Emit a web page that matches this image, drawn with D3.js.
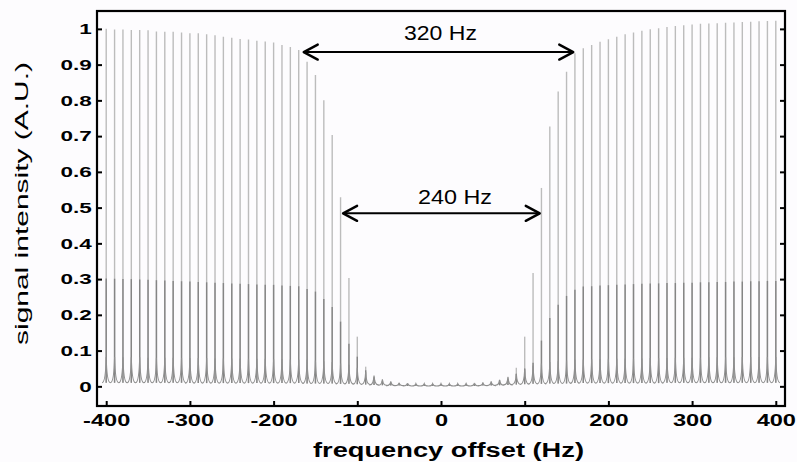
<!DOCTYPE html>
<html>
<head>
<meta charset="utf-8">
<script src="https://cdn.jsdelivr.net/npm/d3@7"></script>
<style>
  html, body { margin: 0; padding: 0; background: #fdfcfe; }
  svg { display: block; }
</style>
</head>
<body>
<svg id="chart" width="797" height="462"></svg>
<script>
// ---------------- DATA ----------------
const freqs = [-400,-390,-380,-370,-360,-350,-340,-330,-320,-310,-300,-290,-280,-270,-260,-250,-240,-230,-220,-210,
  -200,-190,-180,-170,-160,-150,-140,-130,-120,-110,-100,-90,-80,-70,-60,-50,-40,-30,-20,-10,
  0,10,20,30,40,50,60,70,80,90,100,110,120,130,140,150,160,170,180,190,
  200,210,220,230,240,250,260,270,280,290,300,310,320,330,340,350,360,370,380,390,400];

// tallest trace (light grey)
const traceA = [1.000,0.998,0.998,0.997,0.997,0.996,0.993,0.992,0.992,0.990,0.988,0.988,0.985,0.982,0.978,0.975,0.972,0.970,0.967,0.965,
  0.962,0.955,0.949,0.941,0.908,0.871,0.800,0.703,0.529,0.303,0.139,0.055,0.027,0.016,0.012,0.010,0.009,0.008,0.008,0.008,
  0.008,0.008,0.008,0.009,0.010,0.012,0.014,0.018,0.027,0.052,0.139,0.317,0.555,0.727,0.825,0.880,0.932,0.946,0.955,0.964,
  0.971,0.978,0.985,0.990,0.995,0.999,1.002,1.005,1.008,1.010,1.012,1.014,1.015,1.016,1.017,1.018,1.019,1.020,1.021,1.022,1.023];

// middle trace (darker grey)
const traceB = [0.302,0.301,0.300,0.300,0.299,0.298,0.297,0.296,0.295,0.294,0.293,0.292,0.291,0.290,0.289,0.288,0.287,0.286,0.285,0.284,
  0.284,0.282,0.281,0.280,0.272,0.265,0.244,0.222,0.181,0.119,0.083,0.045,0.025,0.015,0.010,0.008,0.007,0.006,0.006,0.006,
  0.006,0.006,0.006,0.006,0.007,0.008,0.010,0.014,0.020,0.035,0.050,0.066,0.128,0.191,0.228,0.253,0.270,0.279,0.280,0.282,
  0.283,0.284,0.285,0.286,0.287,0.288,0.288,0.289,0.289,0.290,0.290,0.291,0.291,0.292,0.292,0.293,0.293,0.294,0.294,0.295,0.295];

// low cusp trace (~0.08)
const traceC = [0.082,0.082,0.081,0.081,0.081,0.080,0.080,0.080,0.080,0.079,0.079,0.079,0.079,0.078,0.078,0.078,0.078,0.077,0.077,0.077,
  0.076,0.076,0.075,0.075,0.074,0.072,0.070,0.068,0.064,0.060,0.052,0.040,0.030,0.020,0.014,0.010,0.008,0.007,0.007,0.007,
  0.007,0.007,0.007,0.007,0.008,0.010,0.013,0.018,0.025,0.035,0.048,0.058,0.064,0.068,0.070,0.072,0.074,0.075,0.076,0.076,
  0.077,0.077,0.078,0.078,0.078,0.079,0.079,0.079,0.080,0.080,0.080,0.080,0.081,0.081,0.081,0.081,0.082,0.082,0.082,0.082,0.082];

// level between the peaks
const valley = [0.010,0.010,0.010,0.010,0.010,0.010,0.010,0.010,0.010,0.010,0.009,0.009,0.009,0.009,0.009,0.009,0.009,0.009,0.009,0.009,
  0.009,0.009,0.009,0.009,0.008,0.008,0.008,0.008,0.007,0.007,0.006,0.005,0.004,0.003,0.002,0.002,0.001,0.001,0.001,0.001,
  0.001,0.001,0.001,0.001,0.001,0.002,0.002,0.003,0.004,0.005,0.006,0.007,0.007,0.008,0.008,0.008,0.009,0.009,0.009,0.009,
  0.009,0.009,0.009,0.009,0.009,0.009,0.009,0.010,0.010,0.010,0.010,0.010,0.010,0.010,0.010,0.010,0.010,0.010,0.010,0.010,0.010];

const xTicks = [-400,-300,-200,-100,0,100,200,300,400];
const yTicks = [0,0.1,0.2,0.3,0.4,0.5,0.6,0.7,0.8,0.9,1];
const yTickLabels = ["0","0.1","0.2","0.3","0.4","0.5","0.6","0.7","0.8","0.9","1"];

// annotations: [from Hz, to Hz, level, label]
const spans = [
  { from: -164, to: 158, level: 0.935, label: "320 Hz" },
  { from: -117, to: 118, level: 0.484, label: "240 Hz" }
];

const xLabel = "frequency offset (Hz)";
const yLabel = "signal intensity (A.U.)";

// ---------------- LAYOUT ----------------
const L = 97, R = 785, T = 11, B = 406;
const svg = d3.select("#chart");
svg.append("rect").attr("width", 797).attr("height", 462).attr("fill", "#fdfcfe");

const x = d3.scaleLinear().domain([-411, 411]).range([L, R]);
const y = d3.scaleLinear().domain([-0.055, 1.05]).range([B, T]);

const data = freqs.map((f, i) => ({ f, a: traceA[i], b: traceB[i], c: traceC[i], v: valley[i] }));

const g = svg.append("g");

// trace A spikes
g.selectAll("line.a").data(data).join("line")
  .attr("class", "a")
  .attr("x1", d => x(d.f)).attr("x2", d => x(d.f))
  .attr("y1", d => y(d.v)).attr("y2", d => y(d.a))
  .attr("stroke", "#bcbcbc").attr("stroke-width", 1.4);

// trace B spikes
g.selectAll("line.b").data(data).join("line")
  .attr("class", "b")
  .attr("x1", d => x(d.f)).attr("x2", d => x(d.f))
  .attr("y1", d => y(d.v)).attr("y2", d => y(d.b))
  .attr("stroke", "#858585").attr("stroke-width", 1.4);

// trace C cusps (one path)
const half = (x(10) - x(0)) / 2;
let dPath = "";
data.forEach((d, i) => {
  const cx = x(d.f), yp = y(d.c), yb = y(d.v);
  if (i === 0) dPath += `M${cx - half},${yb}`;
  else dPath += `L${cx - half},${yb}`;
  dPath += `Q${cx - 0.6},${yb} ${cx},${yp}`;
  dPath += `Q${cx + 0.6},${yb} ${cx + half},${yb}`;
});
g.append("path").attr("d", dPath)
  .attr("fill", "none").attr("stroke", "#8f8f8f").attr("stroke-width", 1.1);

// ---------------- AXES ----------------
const fontTicks = "'Liberation Sans', Arial, sans-serif";

const xAxis = svg.append("g").attr("transform", `translate(0,${B})`)
  .call(d3.axisBottom(x).tickValues(xTicks).tickSizeInner(-5).tickSizeOuter(0).tickPadding(8)
    .tickFormat(d => d));
xAxis.select(".domain").remove();
xAxis.selectAll(".tick line").attr("stroke", "#000").attr("stroke-width", 2);
xAxis.selectAll(".tick text")
  .attr("font-family", fontTicks).attr("font-weight", "bold").attr("font-size", 16.5)
  .attr("fill", "#000").attr("transform", "scale(1.43,1)");

const yAxis = svg.append("g").attr("transform", `translate(${L},0)`)
  .call(d3.axisLeft(y).tickValues(yTicks).tickSizeInner(-5).tickSizeOuter(0).tickPadding(3.5)
    .tickFormat((d, i) => yTickLabels[i]));
yAxis.select(".domain").remove();
yAxis.selectAll(".tick line").attr("stroke", "#000").attr("stroke-width", 2);
yAxis.selectAll(".tick text")
  .attr("font-family", fontTicks).attr("font-weight", "bold").attr("font-size", 15)
  .attr("fill", "#000").attr("transform", "scale(1.5,1)");

const yAxisR = svg.append("g").attr("transform", `translate(${R},0)`)
  .call(d3.axisRight(y).tickValues(yTicks).tickSizeInner(-5).tickSizeOuter(0).tickFormat(""));
yAxisR.select(".domain").remove();
yAxisR.selectAll(".tick line").attr("stroke", "#000").attr("stroke-width", 2);

// frame
svg.append("rect").attr("x", L).attr("y", T).attr("width", R - L).attr("height", B - T)
  .attr("fill", "none").attr("stroke", "#000").attr("stroke-width", 2.2);

// ---------------- ANNOTATIONS ----------------
spans.forEach(s => {
  const x1 = x(s.from), x2 = x(s.to), yy = y(s.level);
  const a = svg.append("g").attr("stroke", "#000").attr("fill", "none")
    .attr("stroke-width", 2.4).attr("stroke-linecap", "round").attr("stroke-linejoin", "round");
  a.append("line").attr("x1", x1 + 1).attr("x2", x2 - 1).attr("y1", yy).attr("y2", yy).attr("stroke-width", 2);
  a.append("path").attr("d", `M${x1 + 14},${yy - 7.5}L${x1},${yy}L${x1 + 14},${yy + 7.5}`);
  a.append("path").attr("d", `M${x2 - 14},${yy - 7.5}L${x2},${yy}L${x2 - 14},${yy + 7.5}`);
});
svg.append("text").text(spans[0].label)
  .attr("x", 404).attr("y", 40).attr("textLength", 73).attr("lengthAdjust", "spacingAndGlyphs")
  .attr("font-family", fontTicks).attr("font-size", 21).attr("fill", "#000");
svg.append("text").text(spans[1].label)
  .attr("x", 418).attr("y", 204).attr("textLength", 74).attr("lengthAdjust", "spacingAndGlyphs")
  .attr("font-family", fontTicks).attr("font-size", 21).attr("fill", "#000");

// ---------------- AXIS TITLES ----------------
svg.append("text").text(xLabel)
  .attr("x", 313).attr("y", 457).attr("textLength", 271).attr("lengthAdjust", "spacingAndGlyphs")
  .attr("font-family", fontTicks).attr("font-weight", "bold").attr("font-size", 20).attr("fill", "#000");

svg.append("text").text(yLabel)
  .attr("transform", "translate(28,345) rotate(-90)")
  .attr("textLength", 283).attr("lengthAdjust", "spacingAndGlyphs")
  .attr("font-family", fontTicks).attr("font-size", 19).attr("fill", "#000");
</script>
</body>
</html>
